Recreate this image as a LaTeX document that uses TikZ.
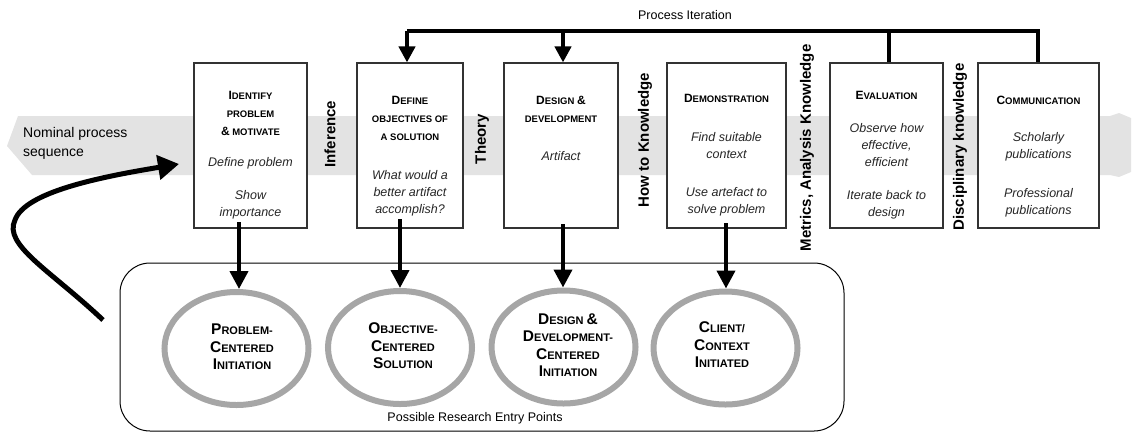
\documentclass[tikz,border=0pt]{standalone}
\usepackage{fontspec}
\setmainfont{Liberation Sans}
\usetikzlibrary{arrows.meta,shapes.geometric}
\definecolor{bandgray}{HTML}{E3E3E3}
\definecolor{ringgray}{HTML}{A6A6A6}
\definecolor{boxline}{HTML}{333333}
\newcommand\Tsc[2]{{\fontsize{12}{18}\selectfont #1}{\fontsize{9.5}{18}\selectfont #2}}
\newcommand\Csc[2]{{\fontsize{15.5}{17.5}\selectfont #1}{\fontsize{11}{17.5}\selectfont #2}}
\tikzset{
  stepbox/.style={draw=boxline, line width=1.1pt, fill=white, rectangle, inner sep=0pt,
    minimum height=165pt},
  ttl/.style={font=\bfseries\fontsize{9.5}{18}\selectfont, align=center, inner sep=0pt},
  itl/.style={font=\itshape\fontsize{12.5}{17}\selectfont, align=center, inner sep=0pt, text=black!85},
  vlab/.style={font=\bfseries\fontsize{15}{15}\selectfont, rotate=90, inner sep=0pt},
  ring/.style={ellipse, draw=ringgray, line width=6pt, fill=white, minimum width=144pt,
    minimum height=113pt, inner sep=0pt},
  clab/.style={font=\bfseries\fontsize{11}{17.5}\selectfont, align=center, inner sep=0pt},
  thickline/.style={line width=4pt, line join=miter},
  downarrow/.style={line width=4pt, -{Triangle[width=18pt,length=18pt]}},
  toparrow/.style={line width=4pt, -{Triangle[width=16pt,length=16pt]}},
  plain/.style={font=\fontsize{12.5}{15}\selectfont, inner sep=0pt},
}
\begin{document}
\begin{tikzpicture}[x=1pt,y=-1pt]
\useasboundingbox (0,0) rectangle (1139,432);
% band
\fill[bandgray] (18,116) -- (1110,116) -- (1119,113) -- (1131,118) -- (1131,172)
  -- (1119,177) -- (1110,175) -- (32,175) -- (7,146) -- cycle;
\node[font=\fontsize{14}{19}\selectfont, align=left, anchor=west, inner sep=0pt] (nom) at (23,143) {Nominal process\\sequence};

% boxes
\node[stepbox, minimum width=113pt] (b1) at (250.5,145.5) {};
\node[stepbox, minimum width=106pt] (b2) at (410,145.5) {};
\node[stepbox, minimum width=114pt] (b3) at (561,145.5) {};
\node[stepbox, minimum width=119pt] (b4) at (726.5,145.5) {};
\node[stepbox, minimum width=113pt] (b5) at (886.5,145.5) {};
\node[stepbox, minimum width=121pt] (b6) at (1038.5,145.5) {};

% box texts
\node[ttl] (t1) at (250.5,113) {\Tsc{I}{DENTIFY}\\\Tsc{}{PROBLEM}\\\Tsc{\&}{ MOTIVATE}};
\node[itl] (i1a) at (250.5,163) {Define problem};
\node[itl] (i1b) at (250.5,205) {Show\\importance};

\node[ttl] (t2) at (410,118) {\Tsc{D}{EFINE}\\\Tsc{}{OBJECTIVES OF}\\\Tsc{}{A SOLUTION}};
\node[itl] (i2) at (410,193) {What would a\\better artifact\\accomplish?};

\node[ttl] (t3) at (561,109.5) {\Tsc{D}{ESIGN} \Tsc{\&}{}\\\Tsc{}{DEVELOPMENT}};
\node[itl] (i3) at (561,156) {Artifact};

\node[ttl] (t4) at (726.5,98) {\Tsc{D}{EMONSTRATION}};
\node[itl] (i4a) at (726.5,146) {Find suitable\\context};
\node[itl] (i4b) at (726.5,202) {Use artefact to\\solve problem};

\node[ttl] (t5) at (886.5,95) {\Tsc{E}{VALUATION}};
\node[itl] (i5a) at (886.5,145) {Observe how\\effective,\\efficient};
\node[itl] (i5b) at (886.5,205) {Iterate back to\\design};

\node[ttl] (t6) at (1038.5,100) {\Tsc{C}{OMMUNICATION}};
\node[itl] (i6a) at (1038.5,147) {Scholarly\\publications};
\node[itl] (i6b) at (1038.5,203) {Professional\\publications};

% vertical labels
\node[vlab] (v1) at (330,134) {Inference};
\node[vlab] (v2) at (482,139) {Theory};
\node[vlab] (v3) at (645,140) {How to Knowledge};
\node[vlab] (v4) at (807,148) {Metrics, Analysis Knowledge};
\node[vlab] (v5) at (960,147) {Disciplinary knowledge};

% process iteration
\node[plain] (pi) at (685,15) {Process Iteration};
\path (b2.north) ++(-3,-31) coordinate (c2);
\path (b3.north) ++(2,-31) coordinate (c3);
\path (b5.north) ++(2,-31) coordinate (c5);
\path (b6.north) ++(-1,-31) coordinate (c6);
\draw[thickline] (c6 |- b6.north) -- (c6) -- (c2);
\draw[thickline] (c5 |- b5.north) -- (c5);
\draw[toparrow] (c2) -- (c2 |- b2.north);
\draw[toparrow] (c3) -- (c3 |- b3.north);

% entry points
\node[draw=black, line width=1pt, rounded corners=30pt, minimum width=724pt, minimum height=168pt, inner sep=0pt] (entry) at (482,347) {};
\node[plain] (pe) at (475,418) {Possible Research Entry Points};

\node[ring] (e1) at (236.5,348.5) {};
\node[ring] (e2) at (400,347.5) {};
\node[ring] (e3) at (563.5,347) {};
\node[ring] (e4) at (725.5,348) {};

\node[clab] (l1) at (242,347) {\Csc{P}{ROBLEM-}\\\Csc{C}{ENTERED}\\\Csc{I}{NITIATION}};
\node[clab] (l2) at (403,346) {\Csc{O}{BJECTIVE-}\\\Csc{C}{ENTERED}\\\Csc{S}{OLUTION}};
\node[clab] (l3) at (568,345) {\Csc{D}{ESIGN} \Csc{\&}{}\\\Csc{D}{EVELOPMENT-}\\\Csc{C}{ENTERED}\\\Csc{I}{NITIATION}};
\node[clab] (l4) at (722,345) {\Csc{C}{LIENT/}\\\Csc{C}{ONTEXT}\\\Csc{I}{NITIATED}};

% down arrows
\coordinate (s1) at (239,222);
\coordinate (s2) at (400,219);
\coordinate (s3) at (563,224);
\coordinate (s4) at (726,223);
\draw[downarrow] (s1) -- (s1 |- e1.north);
\draw[downarrow] (s2) -- (s2 |- e2.north);
\draw[downarrow] (s3) -- (s3 |- e3.north);
\draw[downarrow] (s4) -- (s4 |- e4.north);

% curved entry arrow
\coordinate (cs) at (103,320);
\coordinate (ce) at (179,164);
\draw[line width=5pt, -{Triangle[width=24pt,length=21pt]}] (cs) .. controls (50,270) and (3,245) .. (15,220) .. controls (25,192) and (100,177) .. (ce);
\end{tikzpicture}
\end{document}
